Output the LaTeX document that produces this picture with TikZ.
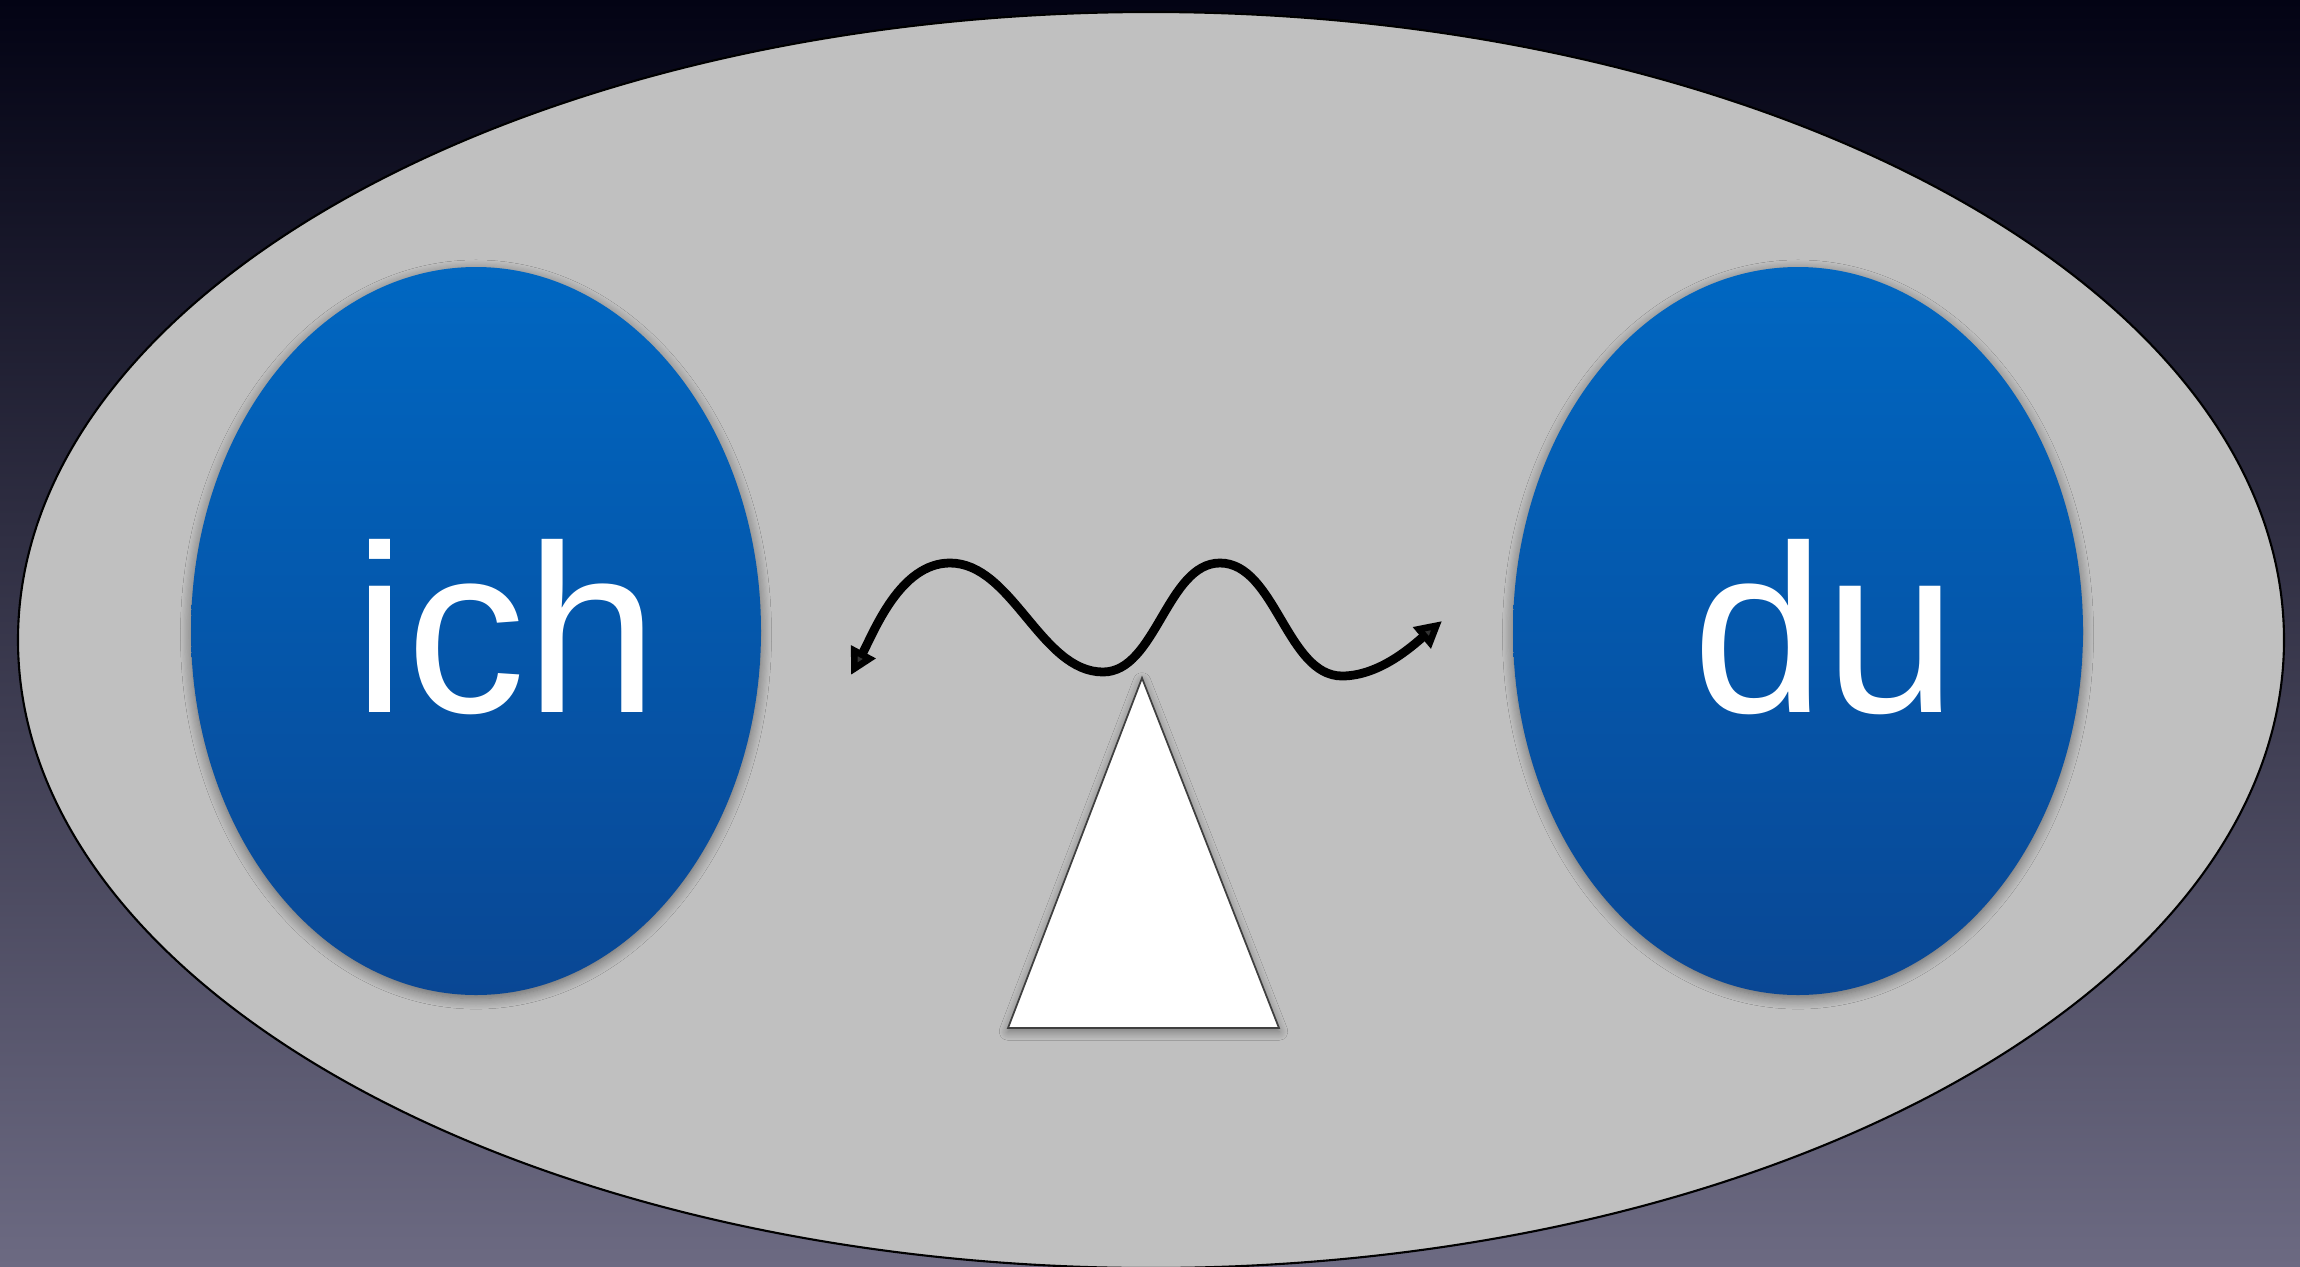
\documentclass[tikz,border=0pt]{standalone}
\usepackage{fontspec}
\setmainfont{Liberation Sans}
\usetikzlibrary{positioning,arrows.meta,shapes.geometric,shadows.blur}
\definecolor{skytop}{RGB}{3,3,20}
\definecolor{skybot}{RGB}{108,106,130}
\definecolor{shellgray}{RGB}{192,192,192}
\definecolor{selftop}{RGB}{0,103,194}
\definecolor{selfbot}{RGB}{9,71,148}

\begin{document}
\begin{tikzpicture}[>=Latex,
  self/.style={ellipse, minimum width=5.7cm, minimum height=7.28cm, inner sep=0pt, outer sep=0pt,
    top color=selftop, bottom color=selfbot,
    blur shadow={shadow blur radius=3pt, shadow xshift=0pt, shadow yshift=-1pt, shadow opacity=45, shadow blur steps=10}},
  word/.style={text=white, inner sep=0pt, font=\fontsize{68}{80}\selectfont},
  wave/.style={line width=2.5pt, looseness=0.85, {Triangle[length=7.5pt,width=7.5pt]}-{Triangle[length=7.5pt,width=7.5pt]}}]
  \useasboundingbox (0,0) rectangle (23,-12.67);
  \fill[top color=skytop, bottom color=skybot] (0,0) rectangle (23,-12.67);

  \node[ellipse, draw, line width=0.6pt, fill=shellgray, minimum width=22.66cm, minimum height=12.56cm, inner sep=0pt] (shell) at (11.51,-6.40) {};
  \node[self] (ich) at (4.76,-6.31) {};
  \node[self, right=7.52cm of ich] (du) {};
  \node[word] (ichtxt) at ([xshift=0.30cm,yshift=0.04cm]ich.center) {ich};
  \node[word] (dutxt) at ([xshift=0.27cm,yshift=0.04cm]du.center) {du};

  % triangle under the wave
  \coordinate (apex) at (11.42,-6.78);
  \coordinate (baseL) at (10.08,-10.28);
  \coordinate (baseR) at (12.79,-10.28);
  \draw[draw=black!75, line width=0.5pt, fill=white,
    blur shadow={shadow blur radius=2.5pt, shadow xshift=0pt, shadow yshift=-1pt, shadow opacity=40, shadow blur steps=10}]
    (apex) -- (baseL) -- (baseR) -- cycle;

  % wave between ich and du
  \coordinate (wl) at (8.51,-6.75);
  \coordinate (p1) at (9.50,-5.63);
  \coordinate (t1) at (11.03,-6.72);
  \coordinate (p2) at (12.20,-5.63);
  \coordinate (t2) at (13.42,-6.76);
  \coordinate (wr) at (14.42,-6.21);
  \draw[wave] (wl) to[out=62,in=180] (p1) to[out=0,in=180] (t1) to[out=0,in=180] (p2)
    to[out=0,in=180] (t2) to[out=0,in=-140] (wr);
\end{tikzpicture}
\end{document}
